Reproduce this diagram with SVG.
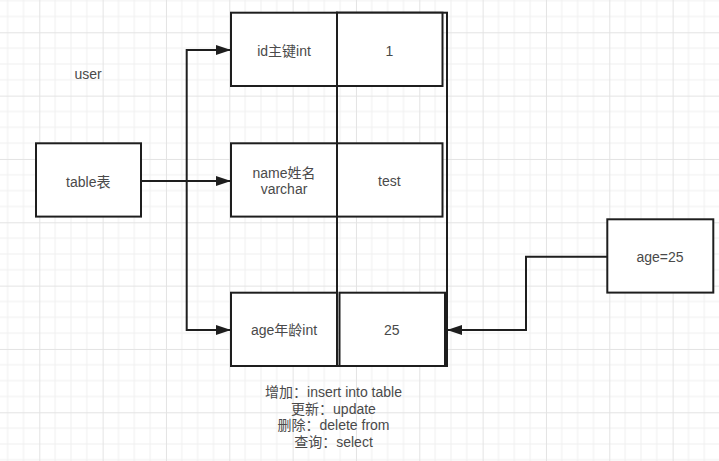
<svg xmlns="http://www.w3.org/2000/svg" width="719" height="461" viewBox="0 0 719 461">
<style>
.box{fill:#ffffff;stroke:#1e1e1e;stroke-width:2}
.col{fill:none;stroke:#1e1e1e;stroke-width:2}
.t{font-family:"Liberation Sans","Noto Sans CJK SC",sans-serif;font-size:14px;fill:#4a4a4a;text-anchor:middle}
.edge{fill:none;stroke:#1e1e1e;stroke-width:2}
</style>
<defs>
<pattern id="grid" patternUnits="userSpaceOnUse" x="39.3" y="32.3" width="63.333" height="63.333">
<path d="M15.833 0V63.333M31.667 0V63.333M47.5 0V63.333M0 15.833H63.333M0 31.667H63.333M0 47.5H63.333" stroke="#f0f0f0" stroke-width="1" fill="none"/>
<path d="M0.5 0V63.333M0 0.5H63.333" stroke="#e3e3e3" stroke-width="1" fill="none"/>
</pattern>
<marker id="arr" markerUnits="userSpaceOnUse" markerWidth="16" markerHeight="12" refX="15" refY="5" orient="auto">
<path d="M0 0L15 5L0 10Z" fill="#1e1e1e"/>
</marker>
</defs>
<rect width="719" height="461" fill="#ffffff"/>
<rect width="719" height="461" fill="url(#grid)"/>

<g id="column">
<rect class="col" x="337" y="12.7" width="110" height="353.3"/>
</g>

<g id="user-label">
<text class="t" x="88" y="78.5">user</text>
</g>

<g id="table">
<rect class="box" x="36" y="143.3" width="105" height="73.3"/>
<text class="t" x="88.3" y="186.5">table表</text>
</g>

<g id="id-field">
<rect class="box" x="231" y="12.7" width="106" height="73.3"/>
<text class="t" x="284" y="55.5">id主键int</text>
</g>
<g id="id-value">
<rect class="box" x="337" y="12.7" width="105.5" height="73.3"/>
<text class="t" x="389.3" y="55.5">1</text>
</g>

<g id="name-field">
<rect class="box" x="231" y="143.3" width="106" height="73.3"/>
<text class="t" x="284" y="177.7">name姓名</text>
<text class="t" x="284" y="194.3">varchar</text>
</g>
<g id="name-value">
<rect class="box" x="337" y="143.3" width="105.5" height="73.3"/>
<text class="t" x="389.3" y="186">test</text>
</g>

<g id="age-field">
<rect class="box" x="231" y="292.7" width="106" height="73.3"/>
<text class="t" x="284" y="335">age年龄int</text>
</g>
<g id="age-value">
<rect class="box" x="339.5" y="292.7" width="105.5" height="73.3"/>
<text class="t" x="391.7" y="335">25</text>
</g>

<g id="age25">
<rect class="box" x="607.3" y="219.3" width="106" height="73.3"/>
<text class="t" x="660" y="262">age=25</text>
</g>

<g id="sql-note">
<text class="t" x="333.5" y="396.7">增加：insert into table</text>
<text class="t" x="333.5" y="413.5">更新：update</text>
<text class="t" x="333.5" y="430">删除：delete from</text>
<text class="t" x="333.5" y="446.7">查询：select</text>
</g>

<g id="connectors">
<path class="edge" d="M141 181H231" marker-end="url(#arr)"/>
<path class="edge" d="M186.7 181V50H231" marker-end="url(#arr)"/>
<path class="edge" d="M186.7 181V330H231" marker-end="url(#arr)"/>
<path class="edge" d="M607.3 256.7H526V330H447" marker-end="url(#arr)"/>
</g>
</svg>
